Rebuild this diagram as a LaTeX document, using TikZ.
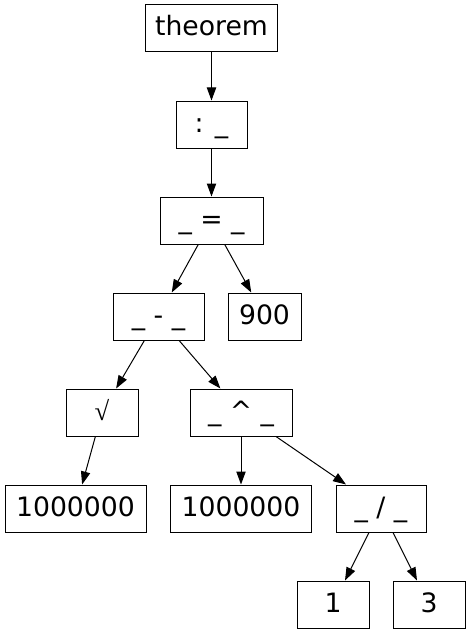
\documentclass[tikz,border=0pt]{standalone}
\usepackage{fontspec}
\setmainfont{DejaVu Sans}
\newfontfamily\rootfont{Liberation Serif}
\usetikzlibrary{arrows.meta}

\tikzset{
	box/.style={draw, line width=0.75pt, inner sep=0pt, minimum height=35.25pt,
		text height=15pt, text depth=3.75pt, font=\fontsize{20pt}{24pt}\selectfont},
	edge/.style={line width=0.75pt, -{Triangle[length=9.75pt, width=7pt]}}
}

\begin{document}
\begin{tikzpicture}[x=0.75pt, y=-0.75pt]
\useasboundingbox (0,0) rectangle (471,635);

\node [box, minimum width=99pt] (thm) at (211.5, 28.5) {theorem};
\node [box, minimum width=53.25pt] (colon) at (211.5, 124.5) {: \_};
\node [box, minimum width=77.25pt] (eq) at (211.5, 220.5) {\_ = \_};

\node [box, minimum width=68.25pt] (minus) at (158.5, 316.5) {\_ - \_};
\node [box, minimum width=54.75pt] (nine) at (264.5, 316.5) {900};

\node [box, minimum width=54pt] (root) at (102, 412.5) {\rootfont √};
\node [box, minimum width=76.5pt] (pow) at (241, 412.5) {\_ \^{} \_};

\node [box, minimum width=105.75pt] (leftnum) at (75.5, 508.5) {1000000};
\node [box, minimum width=105.75pt] (midnum) at (241, 508.5) {1000000};
\node [box, minimum width=67.5pt] (frac) at (381, 508.5) {\_ / \_};

\node [box, minimum width=54pt] (one) at (333, 604.5) {1};
\node [box, minimum width=54pt] (three) at (429, 604.5) {3};

\foreach \a/\b in {thm/colon, colon/eq, eq/minus, eq/nine, minus/root, minus/pow,
	root/leftnum, pow/midnum, pow/frac, frac/one, frac/three}
{
	\draw [edge] (\a) -- (\b);
}
\end{tikzpicture}
\end{document}
